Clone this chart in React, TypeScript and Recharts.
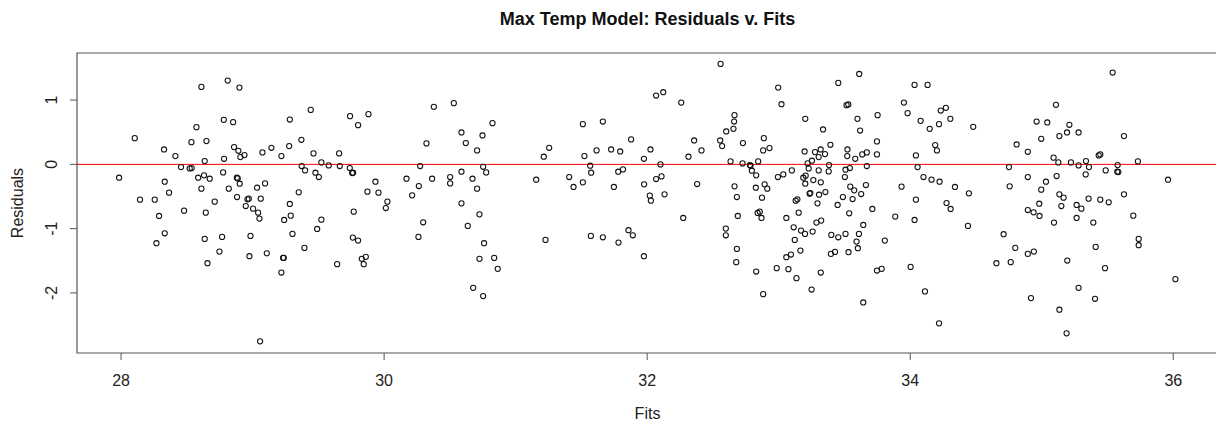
import React from "react";
import {
  ScatterChart,
  Scatter,
  XAxis,
  YAxis,
  ReferenceLine,
  ReferenceArea,
} from "recharts";

// fitted values (x) and residuals (y) left to right
const FITS: number[] = [
  // 28 - 29.1
  28.611, 28.811, 28.900, 28.781, 28.852, 28.573, 28.104, 28.327, 28.535, 28.649,
  28.859, 28.892, 28.938, 28.907, 29.075, 28.413, 28.636, 28.783, 28.456, 28.522,
  28.537, 27.985, 28.332, 28.586, 28.631, 28.674, 28.776, 28.880, 28.887, 28.902,
  28.611, 28.819, 29.034, 29.095, 28.365, 28.144, 28.256, 28.712, 28.882, 28.961,
  28.971, 29.062, 28.948, 29.004, 29.042, 29.052, 28.289, 28.479, 28.644, 28.332,
  28.269, 28.636, 28.768, 28.984, 28.748, 28.976, 29.108, 28.657, 29.057,
  // 29.1 - 30.55
  29.143, 29.278, 29.219, 29.283, 29.442, 29.371, 29.463, 29.373, 29.399, 29.523,
  29.579, 29.478, 29.504, 29.658, 29.663, 29.741, 29.802, 29.881, 29.739, 29.757,
  29.764, 29.351, 29.283, 29.290, 29.240, 29.303, 29.523, 29.491, 29.394, 29.237,
  29.232, 29.219, 29.769, 29.762, 29.802, 29.643, 29.830, 29.861, 29.845, 29.934,
  29.873, 29.957, 30.025, 30.013, 30.170, 30.274, 30.322, 30.378, 30.530, 30.264,
  30.213, 30.365, 30.502, 30.502, 30.297, 30.261,
  // 30.55 - 32
  30.588, 30.621, 30.748, 30.824, 30.707, 30.588, 30.753, 30.776, 30.672, 30.707,
  30.588, 30.725, 30.636, 30.760, 30.725, 30.837, 30.864, 30.677, 30.753, 31.156,
  31.214, 31.255, 31.227, 31.407, 31.440, 31.511, 31.511, 31.523, 31.567, 31.574,
  31.615, 31.663, 31.726, 31.795, 31.878, 31.780, 31.816, 31.747, 31.572, 31.663,
  31.782, 31.858, 31.891, 31.975, 31.977, 31.975,
  // 32 - 33.45
  32.025, 32.020, 32.028, 32.068, 32.122, 32.259, 32.101, 32.068, 32.109, 32.132,
  32.274, 32.314, 32.357, 32.413, 32.380, 32.558, 32.555, 32.570, 32.601, 32.656,
  32.661, 32.664, 32.634, 32.728, 32.725, 32.664, 32.682, 32.689, 32.598, 32.598,
  32.682, 32.677, 32.781, 32.786, 32.796, 32.829, 32.844, 32.826, 32.893, 32.913,
  32.873, 32.840, 32.856, 32.869, 32.829, 32.882, 32.996, 33.021, 32.887, 32.882,
  32.930, 32.994, 33.035, 33.100, 33.058, 32.985, 33.074, 33.058, 33.093, 33.114,
  33.129, 33.142, 33.152, 33.170, 33.122, 33.165, 33.135, 33.202, 33.197, 33.187,
  33.205, 33.202, 33.220, 33.228, 33.253, 33.235, 33.240, 33.263, 33.200, 33.258,
  33.250, 33.276, 33.319, 33.304, 33.352, 33.337, 33.393, 33.383, 33.304, 33.380,
  33.320, 33.307, 33.355, 33.295, 33.287, 33.323, 33.400, 33.397, 33.428, 33.320,
  33.453, 33.448, 33.453,
  // 33.45 - 34.9
  33.612, 33.516, 33.529, 33.599, 33.619, 33.752, 33.747, 33.747, 33.523, 33.521,
  33.582, 33.635, 33.670, 33.670, 33.508, 33.541, 33.503, 33.544, 33.574, 33.663,
  33.627, 33.488, 33.562, 33.536, 33.712, 33.643, 33.508, 33.610, 33.592, 33.602,
  33.531, 33.807, 33.747, 33.783, 33.643, 33.934, 33.886, 33.952, 33.980, 34.033,
  34.132, 34.079, 34.148, 34.219, 34.232, 34.271, 34.305, 34.479, 34.190, 34.203,
  34.043, 34.056, 34.101, 34.162, 34.223, 34.340, 34.446, 34.043, 34.033, 34.276,
  34.307, 34.439, 34.003, 34.112, 34.219, 34.809, 34.751, 34.756, 34.710, 34.799,
  34.655, 34.764, 34.894, 34.894, 34.894, 34.894,
  // 34.9 - 36
  34.918, 34.940, 34.938, 34.983, 34.981, 34.996, 35.032, 34.996, 34.961, 35.042,
  35.108, 35.210, 35.192, 35.134, 35.280, 35.090, 35.126, 35.222, 35.280, 35.336,
  35.359, 35.334, 35.113, 35.134, 35.166, 35.149, 35.093, 35.265, 35.301, 35.265,
  35.356, 35.445, 35.509, 35.392, 35.194, 35.280, 35.134, 35.189, 35.405, 35.410,
  35.481, 35.433, 35.445, 35.486, 35.539, 35.625, 35.577, 35.574, 35.582, 35.625,
  35.731, 35.696, 35.737, 35.737, 35.960, 36.016,
];

const RESIDUALS: number[] = [
  1.205, 1.304, 1.195, 0.693, 0.657, 0.579, 0.408, 0.232, 0.346, 0.362,
  0.269, 0.212, 0.144, 0.113, 0.186, 0.129, 0.051, 0.087, -0.042, -0.063,
  -0.057, -0.208, -0.270, -0.208, -0.171, -0.223, -0.125, -0.208, -0.218, -0.301,
  -0.378, -0.378, -0.363, -0.296, -0.440, -0.549, -0.549, -0.580, -0.508, -0.544,
  -0.533, -0.533, -0.648, -0.689, -0.751, -0.844, -0.803, -0.720, -0.751, -1.072,
  -1.227, -1.160, -1.129, -1.113, -1.357, -1.429, -1.383, -1.538, -2.754,

  0.258, 0.284, 0.129, 0.698, 0.848, 0.383, 0.170, -0.026, -0.094, 0.031,
  -0.016, -0.130, -0.197, 0.170, -0.026, 0.750, 0.610, 0.781, -0.057, -0.135,
  -0.130, -0.435, -0.616, -0.798, -0.865, -1.082, -0.860, -1.005, -1.300, -1.455,
  -1.455, -1.683, -0.736, -1.139, -1.186, -1.553, -1.470, -1.439, -1.553, -0.270,
  -0.425, -0.440, -0.580, -0.679, -0.223, -0.026, 0.326, 0.895, 0.952, -0.337,
  -0.482, -0.223, -0.197, -0.296, -0.901, -1.129,

  0.496, 0.331, 0.450, 0.641, 0.217, -0.114, -0.037, -0.125, -0.223, -0.378,
  -0.606, -0.777, -0.958, -1.227, -1.470, -1.455, -1.626, -1.921, -2.050, -0.239,
  0.119, 0.258, -1.175, -0.197, -0.352, -0.280, 0.626, 0.129, -0.021, -0.130,
  0.217, 0.667, 0.232, 0.201, 0.388, -0.114, -0.078, -0.352, -1.113, -1.134,
  -1.217, -1.025, -1.103, 0.087, -0.311, -1.429,

  0.232, -0.487, -0.565, 1.071, 1.123, 0.962, 0, -0.228, -0.187, -0.466,
  -0.834, 0.119, 0.372, 0.217, -0.306, 1.563, 0.372, 0.284, 0.512, 0.553,
  0.667, 0.766, 0.046, 0.331, 0.015, -0.342, -0.508, -0.803, -0.999, -1.103,
  -1.315, -1.522, -0.011, -0.021, -0.099, -0.171, 0.046, -0.363, -0.311, -0.378,
  -0.518, -0.756, -0.736, -0.834, -1.667, -2.019, 1.195, 0.936, 0.408, 0.217,
  0.253, -0.197, -0.156, -0.094, -0.834, -1.615, -1.631, -1.445, -1.403, -0.979,
  -0.565, -0.544, -0.751, -1.030, -1.175, -1.341, -1.770, 0.709, 0.201, -0.208,
  -0.176, -0.301, 0.015, -0.063, 0.057, -0.456, -0.446, -0.244, -1.082, -1.046,
  -1.947, 0.191, 0.232, 0.113, 0.160, 0.543, 0.305, -0.011, -0.094, -0.109,
  -0.280, -0.472, -0.430, -0.606, -0.906, -0.875, -1.098, -1.393, -1.362, -1.683,
  1.268, -0.632, -1.134,

  1.407, 0.921, 0.932, 0.709, 0.527, 0.766, 0.357, 0.155, 0.232, 0.129,
  0.087, 0.155, 0.186, -0.026, -0.083, -0.057, -0.197, -0.347, -0.404, -0.321,
  -0.461, -0.508, -0.539, -0.761, -0.694, -0.943, -1.082, -1.082, -1.201, -1.305,
  -1.367, -1.186, -1.652, -1.626, -2.149, -0.347, -0.813, 0.962, 0.797, 1.236,
  1.236, 0.678, 0.553, 0.626, 0.838, 0.880, 0.709, 0.584, 0.300, 0.217,
  0.139, -0.042, -0.197, -0.238, -0.270, -0.352, -0.451, -0.549, -0.865, -0.601,
  -0.694, -0.958, -1.595, -1.977, -2.474, 0.310, -0.042, -0.342, -1.087, -1.300,
  -1.538, -1.522, 0.196, -0.197, -0.710, -1.393,

  -2.081, -1.357, -0.746, -0.803, -0.612, -0.394, -0.270, 0.398, 0.667, 0.652,
  0.926, 0.616, 0.496, 0.440, 0.496, 0.104, 0.031, 0.031, -0.016, 0.051,
  -0.042, -0.156, -0.181, -0.466, -0.518, -0.648, -0.906, -0.632, -0.689, -0.834,
  -0.533, -0.549, -0.590, -0.906, -1.496, -1.921, -2.262, -2.629, -2.091, -1.284,
  -1.615, 0.139, 0.155, -0.094, 1.428, 0.440, -0.011, -0.114, -0.119, -0.466,
  0.046, -0.798, -1.160, -1.258, -0.239, -1.786,
];

const X_TICKS = [28, 30, 32, 34, 36];
const Y_TICKS = [-2, -1, 0, 1];
const X_DOMAIN: [number, number] = [27.665, 36.34];
const Y_DOMAIN: [number, number] = [-2.935, 1.733];

const FONT = '"Liberation Sans", Arial, sans-serif';

const points = FITS.map((fit, i) => ({ fit, resid: RESIDUALS[i] }));

function OpenCircle(props: any) {
  const { cx, cy } = props;
  if (cx == null || cy == null) return null;
  return <circle cx={cx} cy={cy} r={2.6} fill="none" stroke="#111" strokeWidth={1.05} />;
}

function XTick(props: any) {
  const { x, payload } = props;
  return (
    <text x={x} y={386} textAnchor="middle" fontSize={16} fontFamily={FONT} fill="#222">
      {payload.value}
    </text>
  );
}

function YTick(props: any) {
  const { y, payload } = props;
  return (
    <text
      x={57}
      y={y}
      transform={`rotate(-90, 57, ${y})`}
      textAnchor="middle"
      fontSize={16}
      fontFamily={FONT}
      fill="#222"
    >
      {payload.value}
    </text>
  );
}

export default function App() {
  return (
    <div
      style={{
        position: "absolute",
        left: 0,
        top: 0,
        width: 1216,
        height: 426,
        overflow: "hidden",
        background: "#fff",
        fontFamily: FONT,
      }}
    >
      <div
        style={{
          position: "absolute",
          left: 77,
          width: 1141,
          top: 8,
          lineHeight: "22px",
          textAlign: "center",
          fontSize: 18,
          fontWeight: "bold",
          color: "#111",
        }}
      >
        Max Temp Model: Residuals v. Fits
      </div>

      <ScatterChart width={1220} height={426} margin={{ top: 53, right: 2, bottom: 0, left: 0 }}>
        <XAxis
          type="number"
          dataKey="fit"
          domain={X_DOMAIN}
          allowDataOverflow
          ticks={X_TICKS}
          height={73}
          axisLine={false}
          tickSize={7}
          tickLine={{ stroke: "#555" }}
          tick={<XTick />}
        />
        <YAxis
          type="number"
          dataKey="resid"
          domain={Y_DOMAIN}
          allowDataOverflow
          ticks={Y_TICKS}
          width={77}
          axisLine={false}
          tickSize={7}
          tickLine={{ stroke: "#555" }}
          tick={<YTick />}
        />
        <ReferenceArea
          x1={X_DOMAIN[0]}
          x2={X_DOMAIN[1]}
          y1={Y_DOMAIN[0]}
          y2={Y_DOMAIN[1]}
          fill="none"
          stroke="#555"
          strokeWidth={1.2}
          ifOverflow="visible"
        />
        <ReferenceLine y={0} stroke="#ff0000" strokeWidth={1} />
        <Scatter data={points} shape={<OpenCircle />} isAnimationActive={false} />
      </ScatterChart>

      <div
        style={{
          position: "absolute",
          left: 77,
          width: 1141,
          top: 404,
          lineHeight: "20px",
          textAlign: "center",
          fontSize: 16,
          color: "#222",
        }}
      >
        Fits
      </div>
      <div
        style={{
          position: "absolute",
          left: 17.5,
          top: 203,
          transform: "translate(-50%, -50%) rotate(-90deg)",
          whiteSpace: "nowrap",
          lineHeight: "16px",
          fontSize: 16,
          color: "#222",
        }}
      >
        Residuals
      </div>
    </div>
  );
}
